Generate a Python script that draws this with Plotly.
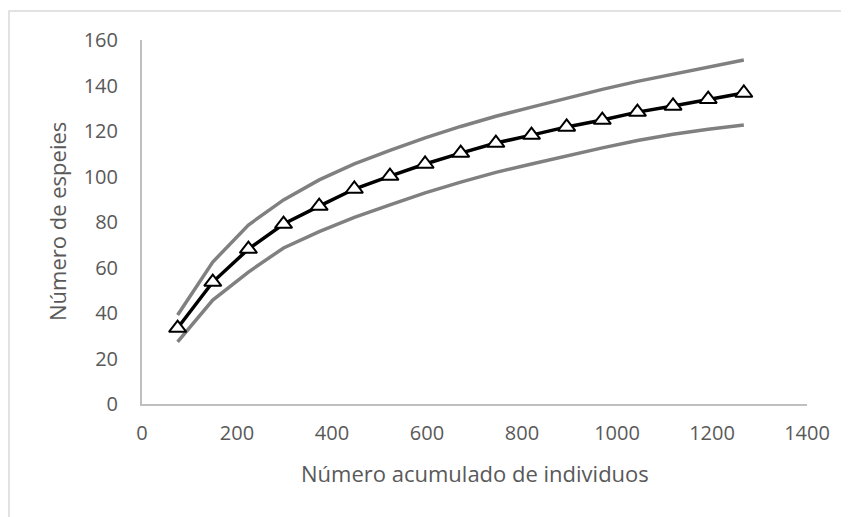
import plotly.graph_objects as go

individuos = [75, 149, 224, 298, 373, 447, 522, 596, 671, 745, 820, 894, 969, 1043, 1118, 1192, 1267]
especies = [33.4, 53.6, 68.1, 79.1, 87.0, 94.5, 100.2, 105.5, 110.3, 114.7, 118.2, 121.8, 124.8, 128.3, 131.0, 134.0, 136.7]
superior = [39.1, 62.4, 78.7, 89.7, 98.5, 105.5, 111.5, 117.0, 122.0, 126.5, 130.5, 134.5, 138.3, 141.8, 145.0, 148.2, 151.2]
inferior = [27.3, 45.7, 58.0, 68.6, 75.8, 82.0, 87.5, 92.8, 97.5, 101.8, 105.5, 109.2, 112.6, 115.8, 118.6, 120.8, 122.6]

x_ticks = [0, 200, 400, 600, 800, 1000, 1200, 1400]
y_ticks = [0, 20, 40, 60, 80, 100, 120, 140, 160]

fig = go.Figure()
fig.add_trace(go.Scatter(x=individuos, y=superior, mode="lines",
                         line=dict(color="#808080", width=3.5), showlegend=False))
fig.add_trace(go.Scatter(x=individuos, y=inferior, mode="lines",
                         line=dict(color="#808080", width=3.5), showlegend=False))
fig.add_trace(go.Scatter(x=individuos, y=especies, mode="lines+markers",
                         line=dict(color="#000000", width=3.5),
                         marker=dict(symbol="triangle-up", size=15, color="white",
                                     line=dict(color="#000000", width=2)),
                         showlegend=False))

OFF = 8  # default page body margin
W, H = 849 - OFF, 517 - OFF
L, R, T, B = 142 - OFF, 42, 40 - OFF, 113
pw, ph = W - L - R, H - T - B
# helper: page pixel -> paper coords
def px(x):
    return (x - OFF - L) / pw
def py(y):
    return (H - B - (y - OFF)) / ph

fig.update_layout(
    width=W, height=H,
    margin=dict(l=L, r=R, t=T, b=B),
    paper_bgcolor="white", plot_bgcolor="white",
    font=dict(family="Open Sans", size=20, color="#595959"),
    xaxis=dict(range=[0, 1400], tickvals=x_ticks, showgrid=False, zeroline=False,
               showline=True, linecolor="#bfbfbf", linewidth=2, ticks="",
               ticklabelstandoff=10, tickfont=dict(size=20, color="#595959")),
    yaxis=dict(range=[0, 160], tickvals=y_ticks, showgrid=False, zeroline=False,
               showline=True, linecolor="#bfbfbf", linewidth=2, ticks="",
               ticklabelstandoff=18, tickfont=dict(size=20, color="#595959")),
    annotations=[
        dict(text="Número acumulado de individuos", xref="paper", yref="paper",
             x=0.5, y=py(473), showarrow=False, xanchor="center", yanchor="middle",
             font=dict(size=22, color="#595959")),
        dict(text="Número de espeies", xref="paper", yref="paper",
             x=px(57), y=0.5, showarrow=False, textangle=-90,
             xanchor="center", yanchor="middle", font=dict(size=22, color="#595959")),
    ],
    shapes=[
        dict(type="rect", xref="paper", yref="paper",
             x0=px(9), x1=px(870), y0=py(540), y1=py(11),
             line=dict(color="#d9d9d9", width=1.5), fillcolor="rgba(0,0,0,0)", layer="below"),
    ],
)

fig.write_html("out.html")
